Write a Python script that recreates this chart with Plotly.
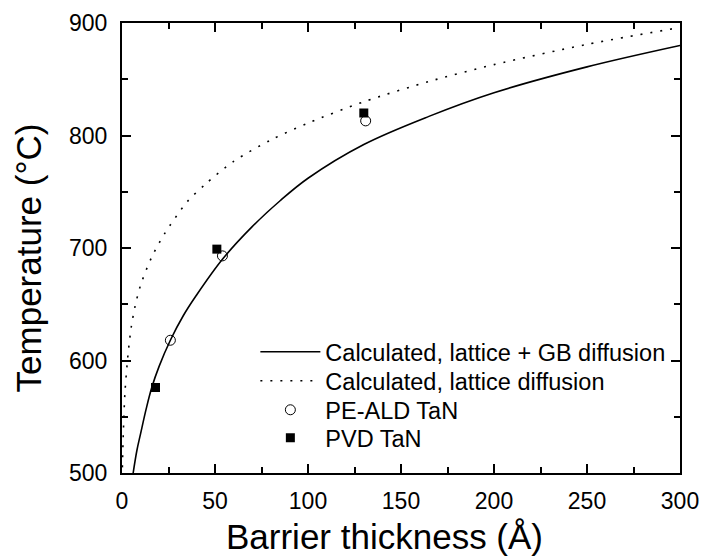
import plotly.graph_objects as go

# Calculated curve: lattice + GB diffusion
gb_x = [6, 8, 10, 13, 16, 20, 26, 33, 40, 54, 70, 85, 100, 130, 165, 200, 250, 300]
gb_y = [500, 520, 535, 557, 576, 595, 618, 640, 658, 690, 719, 742, 762, 792, 817, 838, 861, 880]

# Calculated curve: lattice diffusion only
lat_x = [0.2, 0.7, 1.6, 3.4, 5, 7, 10, 16, 23, 35, 45, 60, 80, 100, 130, 165, 200, 250, 300]
lat_y = [505, 535, 572, 608, 630, 648, 667, 692, 713, 741, 757, 777, 796, 811, 830, 848, 863, 881, 896]

# Measured points
ald_x = [26, 54, 131]
ald_y = [618, 693, 813]
pvd_x = [18, 51, 130]
pvd_y = [576, 699, 820]

FONT = "Liberation Sans, Arial, sans-serif"

fig = go.Figure()
fig.add_trace(go.Scatter(x=gb_x, y=gb_y, mode="lines", name="Calculated, lattice + GB diffusion",
                         legend="legend",
                         line=dict(color="black", width=1.6, shape="spline", smoothing=1.0)))
fig.add_trace(go.Scatter(x=lat_x, y=lat_y, mode="lines", name="Calculated, lattice diffusion",
                         legend="legend2",
                         line=dict(color="black", width=1.6, dash="2px,8px", shape="spline", smoothing=0.8)))
fig.add_trace(go.Scatter(x=ald_x, y=ald_y, mode="markers", name="PE-ALD TaN",
                         legend="legend3",
                         marker=dict(symbol="circle-open", size=10, color="black", line=dict(width=1, color="black"))))
fig.add_trace(go.Scatter(x=pvd_x, y=pvd_y, mode="markers", name="PVD TaN",
                         legend="legend4",
                         marker=dict(symbol="square", size=9, color="black")))

axis_common = dict(showline=True, linecolor="black", linewidth=2, mirror="ticks",
                   ticks="inside", ticklen=9, tickwidth=1.5, tickcolor="black",
                   showgrid=False, zeroline=False, automargin=False,
                   tickfont=dict(family=FONT, size=23, color="black"))

fig.update_xaxes(range=[0, 300], tickvals=[0, 50, 100, 150, 200, 250, 300],
                 minor=dict(dtick=25, ticks="inside", ticklen=6, tickwidth=1.5, tickcolor="black"),
                 ticklabelstandoff=6, **axis_common)
fig.update_yaxes(range=[500, 900], tickvals=[500, 600, 700, 800, 900],
                 minor=dict(dtick=50, ticks="inside", ticklen=6, tickwidth=1.5, tickcolor="black"),
                 ticklabelstandoff=8, **axis_common)

fig.add_annotation(text="Barrier thickness (Å)", xref="paper", yref="paper", x=0.4713, y=-0.142,
                   showarrow=False, font=dict(family=FONT, size=35, color="black"),
                   xanchor="center", yanchor="middle")
fig.add_annotation(text="Temperature (°C)", xref="paper", yref="paper", x=-0.1685, y=0.479,
                   showarrow=False, textangle=-90, font=dict(family=FONT, size=35, color="black"),
                   xanchor="center", yanchor="middle")

leg_common = dict(x=0.239, xanchor="left", yanchor="top",
                  font=dict(family=FONT, size=23.5, color="black"),
                  bgcolor="rgba(0,0,0,0)", borderwidth=0, itemwidth=60)

fig.update_layout(
    width=701, height=557,
    margin=dict(l=122, r=21, t=23, b=84, autoexpand=False),
    paper_bgcolor="white", plot_bgcolor="white",
    showlegend=True,
    legend=dict(y=0.3178, **leg_common),
    legend2=dict(y=0.2533, **leg_common),
    legend3=dict(y=0.1889, **leg_common),
    legend4=dict(y=0.1267, **leg_common),
)

fig.write_html("out.html")
